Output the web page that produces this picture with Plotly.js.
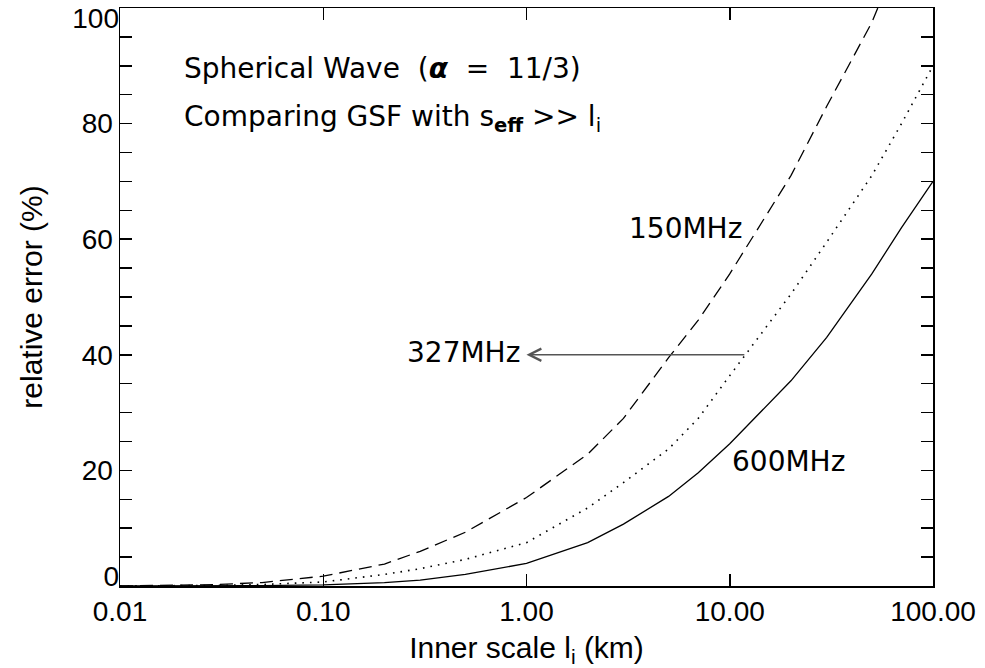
<!DOCTYPE html>
<html>
<head>
<meta charset="utf-8">
<script src="https://cdn.plot.ly/plotly-3.0.1.min.js"></script>
<style>html,body{margin:0;padding:0;background:#fff;}#chart{width:985px;height:668px;}</style>
</head>
<body>
<div id="chart"></div>
<script>
// Inner scale (km)
const innerScaleKm = [0.01, 0.02, 0.03, 0.05, 0.1, 0.2, 0.3, 0.5, 1, 2, 3, 5, 7, 10, 20, 30, 50, 70, 100];
// Relative error (%) per frequency
const err150MHz = [0, 0.1, 0.25, 0.6, 1.7, 3.8, 6.0, 9.3, 15.3, 22.8, 29, 39.5, 46, 54, 71, 83, 97.5, 110, 125];
const err327MHz = [0, 0.05, 0.1, 0.25, 0.7, 2.0, 3.0, 4.6, 7.5, 13.5, 17.9, 23.7, 29, 36.4, 50.5, 59.5, 71, 80, 90];
const err600MHz = [0, 0.02, 0.04, 0.08, 0.2, 0.6, 1.0, 2.0, 3.9, 7.5, 10.7, 15.5, 19.6, 24.6, 35.5, 43, 54, 62, 70];

const seriesNames = ['150MHz', '327MHz', '600MHz'];
const xRangeKm = [0.01, 100];
const yRange = [0, 100];
const yTickVals = [0, 20, 40, 60, 80, 100];
const yMinorStep = 5;

const arrowTipKm = 1.0;
const arrowTailKm = 12.0;
const arrowLevel = 40;

const NB = '\u00a0';

// inner y tick positions (multiples of 20 labelled, every 5 unlabelled)
const yAllVals = [], yAllText = [];
for (let v = yRange[0] + yMinorStep; v < yRange[1]; v += yMinorStep) {
  yAllVals.push(v);
  yAllText.push(yTickVals.indexOf(v) >= 0 ? String(v) : '');
}

const traces = [
  {x: innerScaleKm, y: err150MHz, name: seriesNames[0], mode: 'lines',
   line: {color: '#000', width: 1.3, dash: '13px,7px'}},
  {x: innerScaleKm, y: err327MHz, name: seriesNames[1], mode: 'lines',
   line: {color: '#000', width: 1.6, dash: '1.6px,6px'}},
  {x: innerScaleKm, y: err600MHz, name: seriesNames[2], mode: 'lines',
   line: {color: '#000', width: 1.3}},
  {x: [], y: [], yaxis: 'y2', mode: 'lines', hoverinfo: 'skip'},
  {x: [], y: [], yaxis: 'y3', mode: 'lines', hoverinfo: 'skip'}
];

const annFont = {family: 'DejaVu Sans', size: 28, color: '#000'};
const tickFont = {family: 'Liberation Sans, Arial, sans-serif', size: 28, color: '#000'};
const titleFont = {family: 'Liberation Sans, Arial, sans-serif', size: 30, color: '#000'};

const yCommon = {
  range: yRange, ticks: 'inside', ticklen: 12, tickwidth: 1.5, tickcolor: '#000',
  showgrid: false, zeroline: false, tickfont: tickFont,
  ticklabeloverflow: 'allow', tickmode: 'array'
};

const layout = {
  width: 985, height: 668,
  margin: {l: 120, r: 52, t: 8, b: 82},
  paper_bgcolor: '#fff', plot_bgcolor: '#fff',
  showlegend: false,
  xaxis: {
    type: 'log', range: [Math.log10(xRangeKm[0]), Math.log10(xRangeKm[1])],
    tickmode: 'linear', tick0: Math.log10(xRangeKm[0]), dtick: 1, tickformat: '.2f',
    ticks: 'inside', ticklen: 12, tickwidth: 1.5, tickcolor: '#000',
    showline: true, linecolor: '#000', linewidth: 1.5, mirror: 'ticks',
    showgrid: false, zeroline: false, ticklabeloverflow: 'allow',
    tickfont: tickFont,
    title: {text: 'Inner scale l<sub>i</sub> (km)', font: titleFont, standoff: 12}
  },
  yaxis: Object.assign({}, yCommon, {
    tickvals: yAllVals, ticktext: yAllText,
    showline: true, linecolor: '#000', linewidth: 1.5, mirror: 'ticks',
    title: {text: 'relative error (%)', font: titleFont, standoff: 30}
  }),
  yaxis2: Object.assign({}, yCommon, {
    overlaying: 'y', anchor: 'x', side: 'left', tickvals: yTickVals.slice(-1),
    showline: false, ticklabelshift: 10
  }),
  yaxis3: Object.assign({}, yCommon, {
    overlaying: 'y', anchor: 'x', side: 'left', tickvals: yTickVals.slice(0, 1),
    showline: false, ticklabelshift: -10
  }),
  annotations: [
    {xref: 'paper', yref: 'paper', x: (182 - 120) / 813, y: (586 - 68) / 578, xanchor: 'left', yanchor: 'middle',
     text: 'Spherical Wave' + NB + ' (<b><i>α</i></b>' + NB + ' =' + NB + ' 11/3)', showarrow: false, font: annFont},
    {xref: 'paper', yref: 'paper', x: (182 - 120) / 813, y: (586 - 118) / 578, xanchor: 'left', yanchor: 'middle',
     text: 'Comparing GSF with s<sub><b>eff</b></sub> >> l<sub>i</sub>', showarrow: false, font: annFont},
    {xref: 'paper', yref: 'paper', x: (627 - 120) / 813, y: (586 - 229) / 578, xanchor: 'left', yanchor: 'middle',
     text: seriesNames[0], showarrow: false, font: annFont},
    {xref: 'paper', yref: 'paper', x: (405 - 120) / 813, y: (586 - 352) / 578, xanchor: 'left', yanchor: 'middle',
     text: seriesNames[1], showarrow: false, font: annFont},
    {xref: 'paper', yref: 'paper', x: (730 - 120) / 813, y: (586 - 461) / 578, xanchor: 'left', yanchor: 'middle',
     text: seriesNames[2], showarrow: false, font: annFont},
    {xref: 'x', yref: 'y', axref: 'x', ayref: 'y',
     x: Math.log10(arrowTipKm), y: arrowLevel, ax: Math.log10(arrowTailKm), ay: arrowLevel,
     text: '', showarrow: true, arrowhead: 5, arrowsize: 1.6, arrowwidth: 1.5, arrowcolor: '#555', standoff: 0}
  ]
};

Plotly.newPlot('chart', traces, layout, {staticPlot: true, displayModeBar: false});
</script>
</body>
</html>
